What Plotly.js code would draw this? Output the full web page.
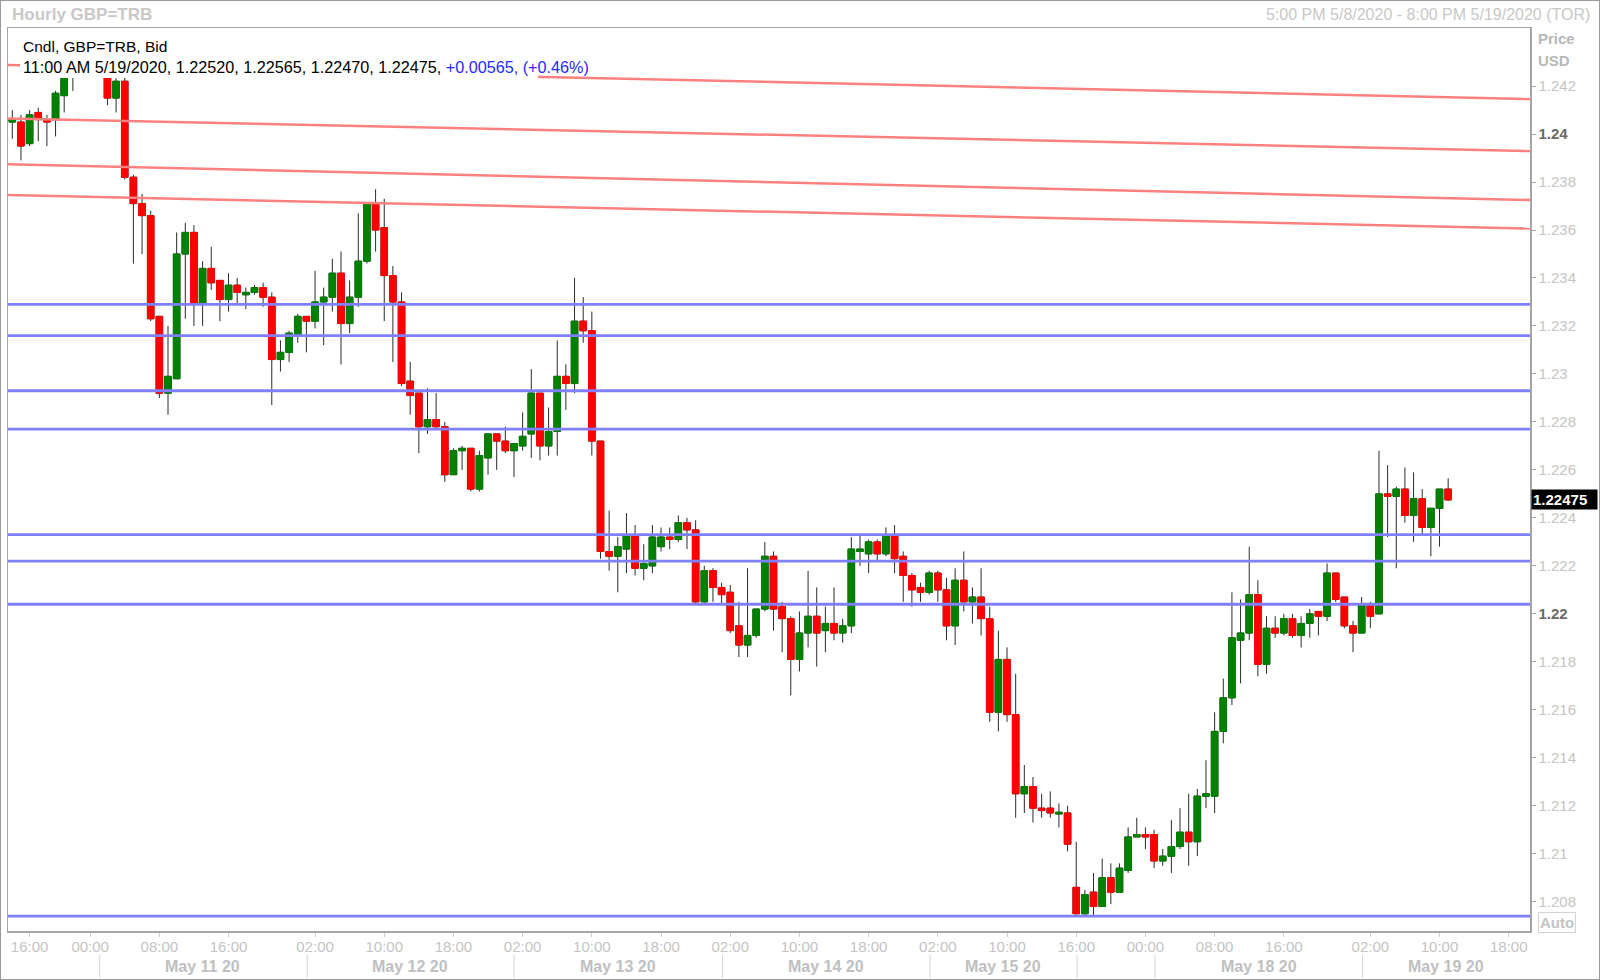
<!DOCTYPE html>
<html><head><meta charset="utf-8">
<script src="https://cdn.plot.ly/plotly-3.0.1.min.js"></script>
<style>
html,body{margin:0;padding:0;background:#fff;}
#chart{width:1600px;height:980px;}
#frame{position:absolute;left:0;top:0;width:1600px;height:980px;box-sizing:border-box;border:1px solid #9a9a9a;pointer-events:none;}
</style>
</head><body><div id="chart"></div><div id="frame"></div>
<script>
// ---- data (hourly GBP=TRB candles) ----
const openP = [
1.2405,1.2405,1.2396,1.2409,1.2406,1.2406,1.2416,1.2429,1.2433,1.2436,
1.2431,1.2434,1.2415,1.2422,1.2382,1.2371,1.2366,1.2324,1.2292,1.2298,
1.2350,1.2359,1.2329,1.2344,1.2339,1.2331,1.2337,1.2333,1.2334,1.2336,
1.2332,1.2306,1.2309,1.2316,1.2324,1.2322,1.2330,1.2332,1.2342,1.2321,
1.2332,1.2347,1.2371,1.2361,1.2341,1.2330,1.2297,1.2292,1.2278,1.2281,
1.2278,1.2258,1.2268,1.2269,1.2252,1.2265,1.2275,1.2272,1.2268,1.2270,
1.2275,1.2292,1.2270,1.2276,1.2299,1.2296,1.2322,1.2318,1.2272,1.2226,
1.2224,1.2227,1.2233,1.2219,1.2220,1.2228,1.2232,1.2231,1.2238,1.2235,
1.2205,1.2218,1.2211,1.2209,1.2195,1.2187,1.2191,1.2202,1.2224,1.2203,
1.2198,1.2181,1.2192,1.2199,1.2193,1.2196,1.2192,1.2195,1.2226,1.2225,
1.2230,1.2225,1.2233,1.2224,1.2216,1.2211,1.2209,1.2217,1.2210,1.2195,
1.2214,1.2205,1.2207,1.2198,1.2159,1.2181,1.2158,1.2125,1.2128,1.2119,
1.2119,1.21166,1.2117,1.2086,1.2075,1.2084,1.2078,1.2090,1.2084,1.2093,
1.2107,1.2108,1.2108,1.2097,1.2099,1.2103,1.2109,1.2105,1.2124,1.2124,
1.2151,1.2165,1.2189,1.2192,1.2208,1.2179,1.2194,1.2192,1.2198,1.2191,
1.2196,1.2201,1.2199,1.2217,1.2207,1.2195,1.2192,1.2204,1.2200,1.2250,
1.2249,1.2252,1.2241,1.2248,1.2236,1.2244,1.22520];
const highP = [
1.2410,1.2408,1.2410,1.2411,1.2408,1.2418,1.2432,1.2437,1.2440,1.2441,
1.2437,1.2436,1.2425,1.2425,1.2383,1.2375,1.2368,1.2324,1.2320,1.2359,
1.2363,1.2362,1.2347,1.2353,1.2339,1.2342,1.2340,1.2336,1.2337,1.2338,
1.2334,1.2314,1.2318,1.2325,1.2324,1.2343,1.2336,1.2348,1.2351,1.2339,
1.2367,1.2371,1.2377,1.2373,1.2345,1.2334,1.2305,1.2292,1.2294,1.2292,
1.2280,1.2269,1.2270,1.2269,1.2268,1.2275,1.2275,1.2278,1.2271,1.2284,
1.2302,1.2292,1.2286,1.2314,1.2304,1.2340,1.2332,1.2326,1.2272,1.2243,
1.2232,1.2242,1.2237,1.2229,1.2237,1.2236,1.2236,1.2241,1.2240,1.2239,
1.2220,1.2219,1.2213,1.2212,1.2205,1.2219,1.2202,1.2230,1.2226,1.2205,
1.2199,1.2201,1.2218,1.2211,1.2203,1.2211,1.2198,1.2232,1.2233,1.2231,
1.2231,1.2236,1.2237,1.2226,1.2217,1.2213,1.2218,1.2218,1.2215,1.2219,
1.2226,1.2211,1.2219,1.2203,1.2193,1.2186,1.2175,1.2137,1.2132,1.2125,
1.2126,1.2121,1.2120,1.2105,1.2085,1.2092,1.2098,1.2096,1.2096,1.2111,
1.2115,1.2111,1.2110,1.2102,1.2114,1.2119,1.2125,1.2127,1.2139,1.2159,
1.2173,1.2209,1.2206,1.2228,1.2214,1.2199,1.2199,1.2200,1.2200,1.2199,
1.2202,1.2201,1.2221,1.2217,1.2207,1.2197,1.2207,1.2205,1.2268,1.2262,
1.2253,1.2261,1.2259,1.2252,1.2244,1.2252,1.22565];
const lowP = [
1.2398,1.2389,1.2395,1.2397,1.2395,1.2399,1.2409,1.2418,1.2427,1.2428,
1.2426,1.2412,1.2409,1.2381,1.2346,1.2350,1.2322,1.2290,1.2283,1.2298,
1.2323,1.2320,1.2320,1.2335,1.2322,1.2326,1.2329,1.2327,1.2333,1.2328,
1.2287,1.2301,1.2305,1.2313,1.2309,1.2319,1.2312,1.2326,1.2304,1.2317,
1.2328,1.2346,1.2351,1.2322,1.2305,1.2295,1.2283,1.2267,1.2275,1.2277,
1.2255,1.2258,1.2260,1.2251,1.2251,1.2258,1.2260,1.2267,1.2257,1.2268,
1.2265,1.2264,1.2266,1.2266,1.2285,1.2292,1.2313,1.2266,1.2223,1.2218,
1.2209,1.2217,1.2216,1.2214,1.2217,1.2226,1.2227,1.2230,1.2227,1.2204,
1.2204,1.2205,1.2204,1.2192,1.2182,1.2182,1.2190,1.2201,1.2193,1.2184,
1.2166,1.2176,1.2186,1.2178,1.2184,1.2189,1.2188,1.2192,1.2220,1.2217,
1.2222,1.2224,1.2217,1.2205,1.2203,1.2205,1.2208,1.2205,1.2189,1.2187,
1.2201,1.2196,1.2191,1.2155,1.2151,1.2155,1.2115,1.2117,1.2113,1.2115,
1.2115,1.2111,1.2101,1.2074,1.2074,1.2074,1.2078,1.2079,1.2084,1.2092,
1.2107,1.2102,1.2094,1.2095,1.2092,1.2102,1.2095,1.2099,1.2119,1.2117,
1.2146,1.2162,1.2171,1.2189,1.2174,1.2175,1.2190,1.2191,1.2190,1.2186,
1.2190,1.2191,1.2197,1.2205,1.2194,1.2184,1.2192,1.2194,1.2200,1.2232,
1.2219,1.2238,1.2230,1.2233,1.2224,1.2228,1.22470];
const closeP = [
1.2406,1.2395,1.2408,1.2406,1.2405,1.2417,1.2429,1.2433,1.2436,1.2431,
1.2434,1.2415,1.2422,1.2382,1.2371,1.2366,1.2323,1.2292,1.2299,1.2350,
1.2359,1.2329,1.2344,1.2338,1.2331,1.2337,1.2334,1.2334,1.2336,1.2332,
1.2306,1.2309,1.2317,1.2324,1.2322,1.2330,1.2332,1.2342,1.2321,1.2332,
1.2347,1.2371,1.2360,1.2341,1.2330,1.2296,1.2291,1.2278,1.2281,1.2278,
1.2258,1.2268,1.2269,1.2252,1.2266,1.2275,1.2272,1.2268,1.2271,1.2274,
1.2292,1.2270,1.2276,1.2299,1.2296,1.2322,1.2318,1.2272,1.2226,1.2224,
1.2228,1.2233,1.2219,1.2221,1.2232,1.2232,1.2231,1.2238,1.2235,1.2205,
1.2218,1.2211,1.2208,1.2193,1.2187,1.2191,1.2202,1.2224,1.2202,1.2198,
1.2181,1.2192,1.2199,1.2192,1.2196,1.2192,1.2195,1.2227,1.2227,1.2230,
1.2225,1.2233,1.2223,1.2216,1.2210,1.2209,1.2217,1.2210,1.2195,1.2214,
1.2205,1.2207,1.2198,1.2159,1.2181,1.2158,1.2125,1.2128,1.2119,1.2118,
1.2117,1.21173,1.2104,1.2075,1.2083,1.2078,1.2090,1.2084,1.2094,1.2107,
1.2108,1.2107,1.2097,1.2099,1.2103,1.2109,1.2105,1.2124,1.2125,1.2151,
1.2165,1.2190,1.2192,1.2208,1.2179,1.2194,1.2192,1.2198,1.2191,1.2196,
1.2200,1.2199,1.2217,1.2206,1.2195,1.2192,1.2204,1.2199,1.2250,1.2249,
1.2252,1.2241,1.2248,1.2236,1.2244,1.2252,1.22475];

const xTickPos  = [2,9,17,25,35,43,51,59,67,75,83,91,99,107,115,123,131,139,147,157,165,173];
const xTickText = ['16:00','00:00','08:00','16:00','02:00','10:00','18:00','02:00','10:00','18:00',
                   '02:00','10:00','18:00','02:00','10:00','16:00','00:00','08:00','16:00','02:00','10:00','18:00'];
const dayLabels   = ['May 11 20','May 12 20','May 13 20','May 14 20','May 15 20','May 18 20','May 19 20'];
const dayLabelPos = [22.0, 46.0, 70.0, 94.1, 114.5, 144.1, 165.7];
const daySeparators = [10.1, 34.1, 58.0, 82.1, 106.1, 123.1, 132.1, 156.1];

const supportLevels   = [1.2329, 1.2316, 1.2293, 1.2277, 1.2233, 1.2222, 1.2204, 1.2074];
const resistanceStart = [1.24288, 1.24065, 1.23874, 1.23746];
const resistanceEnd   = [1.24146, 1.23929, 1.23725, 1.23606];

const yTickVals = [1.208,1.21,1.212,1.214,1.216,1.218,1.22,1.222,1.224,1.226,1.228,1.23,1.232,1.234,1.236,1.238,1.24,1.242];
const boldTicks = [1.22, 1.24];

const legendLine1 = 'Cndl, GBP=TRB, Bid';
const legendLine2 = '11:00 AM 5/19/2020, 1.22520, 1.22565, 1.22470, 1.22475, ';
const legendChange = '+0.00565, (+0.46%)';
const titleText = 'Hourly GBP=TRB';
const rangeText = '5:00 PM 5/8/2020 - 8:00 PM 5/19/2020 (TOR)';

// ---- layout geometry ----
const W = 1600, H = 980;
const M = {l: 8, r: 70, t: 28, b: 49};
const PW = W - M.l - M.r, PH = H - M.t - M.b;
const X = px => (px - M.l) / PW;
const Y = py => (H - M.b - py) / PH;
const xRange = [-0.497, 175.46];
const yRange = [1.20678, 1.24442];
const xi = v => (v - xRange[0]) / (xRange[1] - xRange[0]);

const idx = openP.map((_, i) => i);
const bodyHigh = openP.map((o, i) => Math.max(o, closeP[i]));
const bodyLow  = openP.map((o, i) => Math.min(o, closeP[i]));

const FONT = 'Liberation Sans, Arial, sans-serif';
const GREEN = '#008000', RED = '#ff0000', WICK = '#2b2b2b';

const wicks = {
  type: 'candlestick', x: idx, open: openP, high: highP, low: lowP, close: closeP,
  increasing: {line: {color: WICK, width: 1}, fillcolor: GREEN},
  decreasing: {line: {color: WICK, width: 1}, fillcolor: RED},
  whiskerwidth: 0, hoverinfo: 'skip', showlegend: false
};
const bodies = {
  type: 'candlestick', x: idx, open: openP, high: bodyHigh, low: bodyLow, close: closeP,
  increasing: {line: {color: GREEN, width: 1}, fillcolor: GREEN},
  decreasing: {line: {color: RED, width: 1}, fillcolor: RED},
  whiskerwidth: 0, hoverinfo: 'skip', showlegend: false
};

const shapes = [];
resistanceStart.forEach((v, i) => shapes.push({
  type: 'line', xref: 'paper', yref: 'y', x0: 0, x1: 1, y0: v, y1: resistanceEnd[i],
  line: {color: '#ff8080', width: 2.5}
}));
supportLevels.forEach(v => shapes.push({
  type: 'line', xref: 'paper', yref: 'y', x0: 0, x1: 1, y0: v, y1: v,
  line: {color: '#8080ff', width: 2.8}
}));
// legend backdrop (hides the candles behind the header text)
shapes.push({type: 'rect', xref: 'paper', yref: 'paper', x0: X(20), x1: X(538), y0: Y(78), y1: Y(30),
  fillcolor: '#ffffff', line: {width: 0}, layer: 'above'});
daySeparators.forEach(p => shapes.push({
  type: 'line', xref: 'paper', yref: 'paper', x0: xi(p), x1: xi(p), y0: Y(955), y1: Y(978),
  line: {color: '#d6d6d6', width: 1}
}));

const annotations = [
  {text: '<b>' + titleText + '</b>', xref: 'paper', yref: 'paper', x: X(10), y: Y(15), xanchor: 'left', yanchor: 'middle',
   showarrow: false, font: {family: FONT, size: 17, color: '#c8c8c8'}},
  {text: rangeText, xref: 'paper', yref: 'paper', x: X(1592), y: Y(15), xanchor: 'right', yanchor: 'middle',
   showarrow: false, font: {family: FONT, size: 16, color: '#c8c8c8'}},
  {text: legendLine1, xref: 'paper', yref: 'paper', x: X(21), y: Y(46), xanchor: 'left', yanchor: 'middle',
   showarrow: false, font: {family: FONT, size: 15.5, color: '#000000'}},
  {text: legendLine2 + '<span style="color:#2a2aff">' + legendChange + '</span>', xref: 'paper', yref: 'paper',
   x: X(21), y: Y(67), xanchor: 'left', yanchor: 'middle',
   showarrow: false, font: {family: FONT, size: 16.2, color: '#000000'}},
  {text: '<b>Price</b>', xref: 'paper', yref: 'paper', x: X(1536), y: Y(38), xanchor: 'left', yanchor: 'middle',
   showarrow: false, font: {family: FONT, size: 15, color: '#b8b8b8'}},
  {text: '<b>USD</b>', xref: 'paper', yref: 'paper', x: X(1536), y: Y(60), xanchor: 'left', yanchor: 'middle',
   showarrow: false, font: {family: FONT, size: 15, color: '#b8b8b8'}},
  {text: '<b>Auto</b>', xref: 'paper', yref: 'paper', x: X(1538), y: Y(922), xanchor: 'left', yanchor: 'middle',
   showarrow: false, font: {family: FONT, size: 15, color: '#c4c4c4'}, bordercolor: '#d4d4d4', borderwidth: 1, borderpad: 1},
  {text: '<b>' + closeP[closeP.length - 1].toFixed(5) + '</b>', xref: 'paper', yref: 'y', x: X(1531),
   y: closeP[closeP.length - 1], xanchor: 'left', yanchor: 'middle', showarrow: false,
   font: {family: FONT, size: 15, color: '#ffffff'}, bgcolor: '#000000', borderpad: 1, width: 63, align: 'left'}
];
dayLabels.forEach((t, i) => annotations.push({
  text: '<b>' + t + '</b>', xref: 'paper', yref: 'paper', x: xi(dayLabelPos[i]), y: Y(966), xanchor: 'center',
  yanchor: 'middle', showarrow: false, font: {family: FONT, size: 16, color: '#c0c0c0'}
}));

const yTickText = yTickVals.map(v => {
  const s = String(+v.toFixed(3));
  return boldTicks.some(b => Math.abs(b - v) < 1e-9) ? '<b><span style="color:#6a6a6a">' + s + '</span></b>' : s;
});

const layout = {
  width: W, height: H, margin: M, paper_bgcolor: '#ffffff', plot_bgcolor: '#ffffff',
  font: {family: FONT}, showlegend: false, hovermode: false,
  boxgap: 0.24, boxgroupgap: 0,
  xaxis: {range: xRange, rangeslider: {visible: false}, showgrid: false, zeroline: false,
    showline: true, mirror: true, linecolor: '#a6a6a6', linewidth: 1.5,
    tickmode: 'array', tickvals: xTickPos, ticktext: xTickText, ticks: 'outside', ticklen: 4,
    ticklabelstandoff: -3,
    tickcolor: '#d0d0d0', tickfont: {family: FONT, size: 15, color: '#c4c4c4'}, fixedrange: true},
  yaxis: {range: yRange, side: 'right', showgrid: false, zeroline: false,
    showline: true, mirror: true, linecolor: '#a6a6a6', linewidth: 1.5,
    tickmode: 'array', tickvals: yTickVals, ticktext: yTickText, ticks: 'outside', ticklen: 4,
    tickcolor: '#a6a6a6', tickfont: {family: FONT, size: 15, color: '#c4c4c4'}, fixedrange: true},
  shapes: shapes, annotations: annotations
};

Plotly.newPlot('chart', [wicks, bodies], layout, {staticPlot: true, displayModeBar: false});
</script>
</body></html>
